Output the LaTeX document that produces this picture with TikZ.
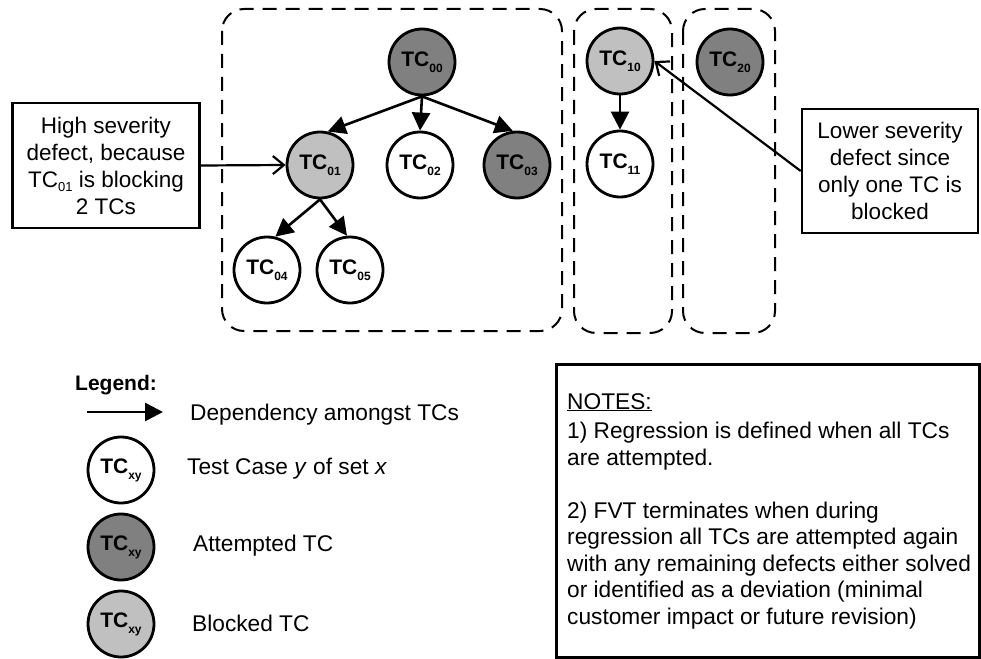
\documentclass[tikz,border=0pt]{standalone}
\usepackage{fontspec}
\setmainfont{Liberation Sans}
\usetikzlibrary{arrows.meta}
\definecolor{attgray}{RGB}{128,128,128}
\definecolor{blkgray}{RGB}{192,192,192}
\newcommand{\tclab}[1]{\bfseries TC\raisebox{-6pt}{\fontsize{12}{12}\selectfont #1}}
\tikzset{
  tc/.style={circle, draw, line width=2.8pt, minimum size=66pt, inner sep=0pt, fill=white, font=\fontsize{21}{21}\selectfont},
  att/.style={tc, fill=attgray},
  blk/.style={tc, fill=blkgray},
  dep/.style={line width=2.6pt, -{Triangle[length=18pt,width=18pt]}},
  callout/.style={line width=2.2pt, -{Straight Barb[length=11pt,width=18pt]}},
  group/.style={draw, dash pattern=on 14pt off 9pt, line width=2pt, rounded corners=22pt},
  textbox/.style={draw, line width=2.6pt, align=center, inner sep=0pt, font=\fontsize{22.5}{27}\selectfont},
  bodytext/.style={inner sep=0pt, font=\fontsize{22.7}{26.5}\selectfont},
}
\begin{document}
\begin{tikzpicture}[x=1pt,y=-1pt]
\useasboundingbox (0,0) rectangle (981,658);
% groups
\draw[group] (222,9) rectangle (562,331);
\draw[group] (574,9) rectangle (672,333);
\draw[group] (683,9) rectangle (775,333);
% tree nodes
\node[att] (tc00) at (422,62) {\tclab{00}};
\node[blk] (tc01) at (320,165) {\tclab{01}};
\node[tc]  (tc02) at (420,165) {\tclab{02}};
\node[att] (tc03) at (517,165) {\tclab{03}};
\node[tc]  (tc04) at (267,270) {\tclab{04}};
\node[tc]  (tc05) at (350,270) {\tclab{05}};
\node[blk] (tc10) at (620,61) {\tclab{10}};
\node[tc]  (tc11) at (620,164) {\tclab{11}};
\node[att] (tc20) at (730,62) {\tclab{20}};
% dependencies
\draw[dep] (tc00.south) -- (tc01.77);
\draw[dep] (tc00.south) -- (tc02.north);
\draw[dep] (tc00.south) -- (tc03.97);
\draw[dep] (tc01.south) -- (tc04.76);
\draw[dep] (tc01.south) -- (tc05.95);
\draw[dep] (tc10.south) -- (tc11.north);
% callout boxes
\node[textbox, minimum width=187pt, minimum height=125pt] (lbox) at (106,165.5)
  {High severity\\defect, because\\TC\raisebox{-4pt}{\fontsize{13}{13}\selectfont 01} is blocking\\2 TCs};
\node[textbox, minimum width=176pt, minimum height=124pt] (rbox) at (890,171)
  {Lower severity\\defect since\\only one TC is\\blocked};
\draw[callout] (lbox.east) -- (tc01.west);
\draw[callout] (rbox.west) -- (tc10.east);
% legend
\node[anchor=base west, inner sep=0pt, font=\fontsize{21}{21}\selectfont\bfseries] (legtitle) at (75,390) {Legend:};
\coordinate (la1) at (87,412);
\coordinate (la2) at (163,412);
\draw[dep] (la1) -- (la2);
\node[bodytext, anchor=west] (legdep) at (190,415) {Dependency amongst TCs};
\node[tc] (leg1) at (121,470) {\tclab{xy}};
\node[att] (leg2) at (121,547) {\tclab{xy}};
\node[blk] (leg3) at (121,624) {\tclab{xy}};
\node[bodytext, anchor=west] (legt1) at (187,469) {Test Case \textit{y} of set \textit{x}};
\node[bodytext, anchor=west] (legt2) at (193,546) {Attempted TC};
\node[bodytext, anchor=west] (legt3) at (192,623) {Blocked TC};
% notes
\node[draw, line width=2.6pt, minimum width=423pt, minimum height=293pt, anchor=north west, inner sep=0pt] (notesbox) at (555,363) {};
\node[bodytext, anchor=north west, align=left] (notes) at (567,393)
  {\underline{NOTES:}\\[3pt]
   1) Regression is defined when all TCs\\
   are attempted.\\[26.5pt]
   2) FVT terminates when during\\
   regression all TCs are attempted again\\
   with any remaining defects either solved\\
   or identified as a deviation (minimal\\
   customer impact or future revision)};
\end{tikzpicture}
\end{document}
